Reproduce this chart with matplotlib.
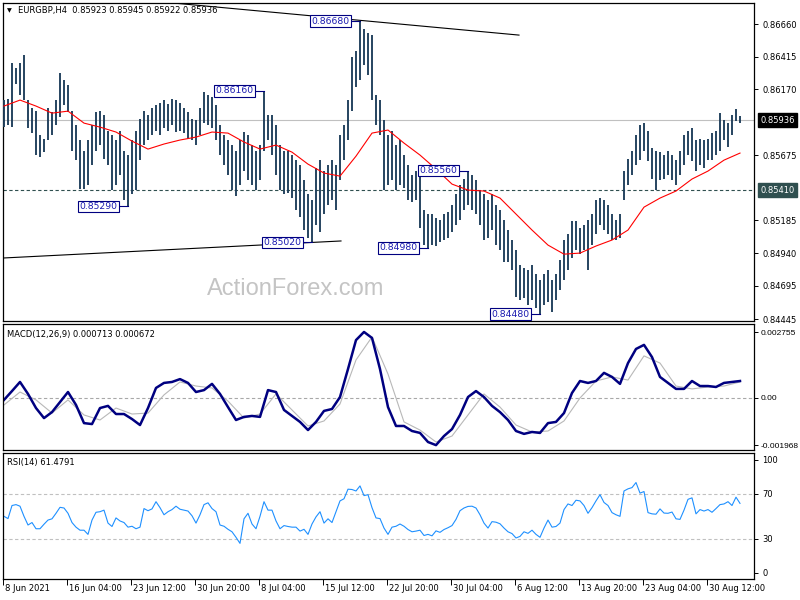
import numpy as np
import matplotlib
matplotlib.use('Agg')
import matplotlib.pyplot as plt
from matplotlib.transforms import blended_transform_factory

plt.rcParams['font.family'] = ['DejaVu Sans']

# ---------------- data ----------------
symbol_title = 'EURGBP,H4  0.85923 0.85945 0.85922 0.85936'
date_labels = ['8 Jun 2021', '16 Jun 04:00', '23 Jun 12:00', '30 Jun 20:00', '8 Jul 04:00',
               '15 Jul 12:00', '22 Jul 20:00', '30 Jul 04:00', '6 Aug 12:00', '13 Aug 20:00',
               '23 Aug 04:00', '30 Aug 12:00']

highs = [
    0.8609, 0.8610, 0.8637, 0.8633, 0.8637, 0.8643, 0.8609, 0.8603, 0.8601, 0.8583,
    0.8580, 0.8603, 0.8600, 0.8609, 0.8629, 0.8624, 0.8620, 0.8601, 0.8590, 0.8579,
    0.8571, 0.8579, 0.8590, 0.8600, 0.8601, 0.8598, 0.8586, 0.8583, 0.8579, 0.8586,
    0.8571, 0.8568, 0.8579, 0.8586, 0.8595, 0.8601, 0.8598, 0.8603, 0.8605, 0.8607,
    0.8609, 0.8606, 0.8610, 0.8609, 0.8607, 0.8603, 0.8600, 0.8595, 0.8594, 0.8603,
    0.8615, 0.8613, 0.8611, 0.8605, 0.8590, 0.8583, 0.8579, 0.8575, 0.8571, 0.8579,
    0.8585, 0.8583, 0.8575, 0.8571, 0.8575, 0.8616, 0.8598, 0.8598, 0.8590, 0.8575,
    0.8571, 0.8571, 0.8568, 0.8564, 0.8560, 0.8549, 0.8538, 0.8534, 0.8558, 0.8564,
    0.8556, 0.8560, 0.8564, 0.8560, 0.8583, 0.8590, 0.8609, 0.8641, 0.8646, 0.8668,
    0.8662, 0.8659, 0.8658, 0.8613, 0.8609, 0.8594, 0.8583, 0.8586, 0.8575, 0.8579,
    0.8568, 0.8560, 0.8553, 0.8556, 0.8555, 0.8526, 0.8523, 0.8523, 0.8520, 0.8519,
    0.8523, 0.8525, 0.8530, 0.8538, 0.8545, 0.8550, 0.8556, 0.8553, 0.8549, 0.8541,
    0.8538, 0.8534, 0.8538, 0.8530, 0.8526, 0.8519, 0.8511, 0.8504, 0.8496, 0.8485,
    0.8483, 0.8481, 0.8485, 0.8478, 0.8474, 0.8478, 0.8481, 0.8474, 0.8478, 0.8489,
    0.8504, 0.8508, 0.8518, 0.8518, 0.8513, 0.8515, 0.8519, 0.8523, 0.8534, 0.8535,
    0.8534, 0.8530, 0.8523, 0.8519, 0.8523, 0.8556, 0.8565, 0.8571, 0.8583, 0.8590,
    0.8592, 0.8586, 0.8573, 0.8571, 0.8570, 0.8568, 0.8571, 0.8568, 0.8564, 0.8571,
    0.8583, 0.8586, 0.8588, 0.8579, 0.8580, 0.8579, 0.8580, 0.8584, 0.8586, 0.8599,
    0.8594, 0.8592, 0.8598, 0.8602, 0.8597]

lows = [
    0.8589, 0.8590, 0.8589, 0.8621, 0.8613, 0.8609, 0.8588, 0.8584, 0.8568, 0.8566,
    0.8570, 0.8579, 0.8583, 0.8590, 0.8596, 0.8605, 0.8600, 0.8571, 0.8564, 0.8542,
    0.8542, 0.8545, 0.8560, 0.8571, 0.8575, 0.8565, 0.8560, 0.8541, 0.8545, 0.8553,
    0.8534, 0.8529, 0.8538, 0.8541, 0.8564, 0.8575, 0.8579, 0.8583, 0.8586, 0.8583,
    0.8588, 0.8586, 0.8590, 0.8585, 0.8586, 0.8584, 0.8580, 0.8579, 0.8575, 0.8583,
    0.8592, 0.8590, 0.8588, 0.8579, 0.8568, 0.8560, 0.8553, 0.8541, 0.8537, 0.8545,
    0.8556, 0.8549, 0.8545, 0.8541, 0.8549, 0.8571, 0.8579, 0.8568, 0.8553, 0.8541,
    0.8538, 0.8539, 0.8535, 0.8526, 0.8521, 0.8511, 0.8505, 0.8502, 0.8515, 0.8510,
    0.8523, 0.8530, 0.8534, 0.8526, 0.8549, 0.8564, 0.8579, 0.8601, 0.8619, 0.8624,
    0.8635, 0.8628, 0.8609, 0.8590, 0.8583, 0.8541, 0.8545, 0.8549, 0.8541, 0.8545,
    0.8543, 0.8534, 0.8532, 0.8534, 0.8513, 0.8500, 0.8498, 0.8500, 0.8499, 0.8502,
    0.8504, 0.8505, 0.8510, 0.8515, 0.8519, 0.8526, 0.8530, 0.8526, 0.8523, 0.8515,
    0.8504, 0.8505, 0.8511, 0.8500, 0.8496, 0.8487, 0.8487, 0.8481, 0.8461, 0.8459,
    0.8460, 0.8455, 0.8459, 0.8453, 0.8448, 0.8455, 0.8457, 0.8450, 0.8459, 0.8466,
    0.8474, 0.8481, 0.8490, 0.8496, 0.8493, 0.8496, 0.8481, 0.8500, 0.8508, 0.8515,
    0.8511, 0.8508, 0.8504, 0.8504, 0.8505, 0.8534, 0.8545, 0.8553, 0.8560, 0.8564,
    0.8571, 0.8563, 0.8550, 0.8541, 0.8549, 0.8550, 0.8553, 0.8549, 0.8545, 0.8553,
    0.8560, 0.8568, 0.8563, 0.8556, 0.8560, 0.8558, 0.8564, 0.8564, 0.8568, 0.8571,
    0.8579, 0.8574, 0.8583, 0.8593, 0.8592]

# moving average, one reading every 4 bars
ma_values = [
    0.86044, 0.86089, 0.86044, 0.85991, 0.86006, 0.85916, 0.85886, 0.85849, 0.85781, 0.85721,
    0.85759, 0.85789, 0.85811, 0.85849, 0.85841, 0.85774, 0.85721, 0.85751, 0.85698, 0.85608,
    0.85541, 0.85518, 0.85668, 0.85841, 0.85864, 0.85766, 0.85676, 0.85571, 0.85458, 0.85413,
    0.85406, 0.85353, 0.85233, 0.85113, 0.85000, 0.84932, 0.84940, 0.84993, 0.85038, 0.85113,
    0.85285, 0.85353, 0.85406, 0.85496, 0.85556, 0.85638, 0.85691]

# MACD main, one reading every 2 bars
macd_main = [
    -0.00008, 0.00029, 0.00067, 0.00017, -0.00042, -0.00084, -0.00059, -0.00017, 0.00025, -0.00029,
    -0.00105, -0.00109, -0.00042, -0.00033, -0.00067, -0.00067, -0.00088, -0.00113, -0.00042, 0.00042,
    0.00063, 0.00067, 0.00079, 0.00063, 0.00025, 0.00033, 0.00059, 0.00017, -0.00038, -0.00092,
    -0.00079, -0.00075, -0.00079, 0.00033, 0.00025, -0.00050, -0.00075, -0.00100, -0.00134, -0.00100,
    -0.00054, -0.00046, 0.00004, 0.00121, 0.00242, 0.00276, 0.00251, 0.00121, -0.00038, -0.00117,
    -0.00117, -0.00138, -0.00146, -0.00184, -0.00197, -0.00159, -0.00130, -0.00071, 0.00004, 0.00029,
    0.00004, -0.00033, -0.00059, -0.00092, -0.00138, -0.00150, -0.00142, -0.00146, -0.00105, -0.00100,
    -0.00063, 0.00021, 0.00071, 0.00063, 0.00071, 0.00105, 0.00088, 0.00059, 0.00146, 0.00205,
    0.00222, 0.00171, 0.00088, 0.00063, 0.00038, 0.00038, 0.00071, 0.00050, 0.00050, 0.00046,
    0.00063, 0.00067, 0.00071]

# MACD signal, one reading every 4 bars
macd_signal = [
    -0.00029, 0.00025, -0.00008, -0.00063, -0.00008, -0.00071, -0.00092, -0.00042, -0.00067, -0.00063,
    0.00013, 0.00067, 0.00050, 0.00042, -0.00013, -0.00084, -0.00067, 0.00017, -0.00050, -0.00117,
    -0.00096, -0.00025, 0.00159, 0.00255, 0.00100, -0.00100, -0.00134, -0.00184, -0.00159, -0.00071,
    0.00017, -0.00038, -0.00113, -0.00142, -0.00138, -0.00096, 0.00000, 0.00071, 0.00088, 0.00075,
    0.00176, 0.00146, 0.00050, 0.00038, 0.00046, 0.00050, 0.00067]

rsi_values = [
    50, 48, 59.6, 60.4, 59, 50, 42.3, 44.5, 39, 39,
    43, 46.7, 47.8, 52.7, 58, 57.4, 52.7, 44.5, 40.4, 37.7,
    37.7, 34, 46.7, 53.6, 54.1, 55.5, 44, 41, 48.6, 45.9,
    44.5, 40.4, 41.2, 39, 40.4, 56.9, 55, 56.6, 63, 57.7,
    51.4, 54.1, 56, 59, 56.3, 55.5, 54.7, 50.5, 44, 51.4,
    60.4, 62, 56.9, 54.1, 42.3, 41.2, 38.5, 36.3, 31.4, 26,
    47.8, 52.7, 43.2, 39, 50, 63, 55.5, 55.5, 45.9, 39,
    41.8, 41, 40.4, 40.4, 36.9, 38.5, 34, 43.2, 49.5, 54.1,
    44, 47.8, 44.5, 54.1, 63.7, 65.6, 74.1, 73.8, 72.5, 77,
    68.4, 69.2, 57.7, 48.6, 48, 39.6, 34, 40.4, 41.2, 43.2,
    41.2, 38.3, 36.3, 36.9, 37.7, 33, 34, 32.7, 37.1, 35.8,
    38.3, 39.9, 41.8, 47.3, 55, 57.4, 58.8, 59, 57.4, 51.4,
    44, 39.6, 45.3, 44.8, 43.4, 39.6, 36.3, 34.7, 30.8, 32.2,
    36.3, 34.9, 37.7, 34, 31.4, 39.6, 46.7, 40.4, 41, 44,
    56, 61, 59.6, 64.3, 63.7, 59.6, 52.7, 57.7, 63.7, 69.2,
    62.3, 59.6, 53.3, 51.4, 50, 72.5, 74.4, 75.5, 80, 70.6,
    72, 53.3, 52.2, 51.9, 56.6, 52.9, 52.7, 53.8, 47.8, 47.3,
    55.5, 65.1, 66.4, 52.2, 56, 54.7, 56, 53.6, 56.9, 60.4,
    61, 63, 59.6, 67, 61.5]

price_ticks = [0.86660, 0.86415, 0.86170, 0.85675, 0.85185, 0.84940, 0.84695, 0.84445]
current_price = 0.85936
level_price = 0.85410
macd_ticks = [0.002755, 0.0, -0.001968]
macd_tick_labels = ['0.002755', '0.00', '-0.001968']
rsi_ticks = [100, 70, 30, 0]
rsi_levels = [70, 30]

ann_bars = [89, 65, 31, 77, 106, 116, 134]
ann_values = [0.86680, 0.86160, 0.85290, 0.85020, 0.84980, 0.85560, 0.84480]

upper_tl_bars = [39.75, 128.75]
upper_tl_prices = [0.86825, 0.86577]
lower_tl_bars = [-0.25, 84.25]
lower_tl_prices = [0.84903, 0.85031]

# ---------------- figure ----------------
W, H = 800, 600
fig = plt.figure(figsize=(8, 6), dpi=100)
fig.patch.set_facecolor('white')


def px_axes(x0, y0, x1, y1):
    return fig.add_axes([x0 / W, 1 - y1 / H, (x1 - x0) / W, (y1 - y0) / H])


ax = px_axes(3, 3, 754, 321)
axm = px_axes(3, 324, 754, 450)
axr = px_axes(3, 453, 754, 579)

bar_color = '#1d3d5a'
xlim = (-0.25, 187.5)
bars_x = np.arange(len(highs))

for a in (ax, axm, axr):
    a.set_xlim(*xlim)
    for s in a.spines.values():
        s.set_color('black')
        s.set_linewidth(0.9)
    a.yaxis.tick_right()
    a.tick_params(axis='y', direction='out', length=3, width=0.7, pad=3,
                  labelsize=6, colors='black')
    a.set_xticks([])

# main price panel
ax.set_ylim(0.84430, 0.86818)
ax.vlines(bars_x, lows, highs, color=bar_color, linewidth=1.35, zorder=3)
ma_x = np.arange(len(ma_values)) * 4
ax.plot(ma_x, ma_values, color='red', linewidth=0.8, zorder=4)
ax.axhline(current_price, color='#c0c0c0', linewidth=0.8, zorder=1)
ax.axhline(level_price, color='#2f4f4f', linewidth=0.8, dashes=(3, 2.2), zorder=1)
ax.plot(upper_tl_bars, upper_tl_prices, color='black', linewidth=0.8, zorder=5)
ax.plot(lower_tl_bars, lower_tl_prices, color='black', linewidth=0.8, zorder=5)
ax.set_yticks(price_ticks)
ax.set_yticklabels(['%.5f' % v for v in price_ticks])

tr = blended_transform_factory(ax.transAxes, ax.transData)
ax.text(1.0085, current_price, '%.5f' % current_price, transform=tr, color='white',
        fontsize=6, va='center', ha='left', clip_on=False,
        bbox=dict(boxstyle='square,pad=0.3', fc='black', ec='black'))
ax.text(1.0085, level_price, '%.5f' % level_price, transform=tr, color='white',
        fontsize=6, va='center', ha='left', clip_on=False,
        bbox=dict(boxstyle='square,pad=0.3', fc='#2f4f4f', ec='#2f4f4f'))

for b, v in zip(ann_bars, ann_values):
    x_edge = b - 2.3
    ax.plot([x_edge, b], [v, v], color='#000080', linewidth=0.8, zorder=6)
    ax.text(x_edge - 0.35, v, '%.5f' % v, color='#1a1ab0', fontsize=6.7,
            ha='right', va='center', zorder=7,
            bbox=dict(boxstyle='square,pad=0.15', fc='white', ec='#000080', lw=0.8))

ax.text(296 / W, 1 - 289 / H, 'ActionForex.com', transform=fig.transFigure,
        fontsize=17, color='#c4c4c4', family='Liberation Sans', ha='center',
        va='center', zorder=0)

fig.text(18 / W, 1 - 11 / H, symbol_title, fontsize=6, va='center', ha='left')
fig.text(7 / W, 1 - 10.5 / H, '\u25BC', fontsize=4.5, va='center', ha='left')

# MACD panel
axm.set_ylim(-0.002174, 0.003093)
axm.axhline(0, color='#a8a8a8', linewidth=0.8, dashes=(3, 2.2))
sig_x = np.arange(len(macd_signal)) * 4
main_x = np.arange(len(macd_main)) * 2
axm.plot(sig_x, macd_signal, color='#b8b8b8', linewidth=0.8)
axm.plot(main_x, macd_main, color='#000080', linewidth=1.8)
axm.set_yticks(macd_ticks)
axm.set_yticklabels(macd_tick_labels, family='Liberation Sans')
axm.tick_params(axis='y', pad=2, labelsize=6)
fig.text(7 / W, 1 - 334 / H, 'MACD(12,26,9) 0.000713 0.000672', fontsize=6,
         va='center', ha='left')

# RSI panel
axr.set_ylim(-5.6, 106.2)
for lv in rsi_levels:
    axr.axhline(lv, color='#c0c0c0', linewidth=0.8, dashes=(3, 2.2))
axr.plot(np.arange(len(rsi_values)), rsi_values, color='#1e90ff', linewidth=0.8)
axr.set_yticks(rsi_ticks)
axr.set_yticklabels([str(v) for v in rsi_ticks])
fig.text(7 / W, 1 - 463 / H, 'RSI(14) 61.4791', fontsize=6, va='center', ha='left')

tick_pos = np.arange(len(date_labels)) * 16 - 0.25
axr.set_xticks(tick_pos)
axr.set_xticklabels([])
axr.tick_params(axis='x', direction='out', length=4, width=0.7)
trx = blended_transform_factory(axr.transData, axr.transAxes)
for p, lab in zip(tick_pos, date_labels):
    axr.text(p + 0.6, -0.075, lab, transform=trx, fontsize=6, ha='left', va='center',
             clip_on=False)

fig.savefig('out.png', dpi=100)
